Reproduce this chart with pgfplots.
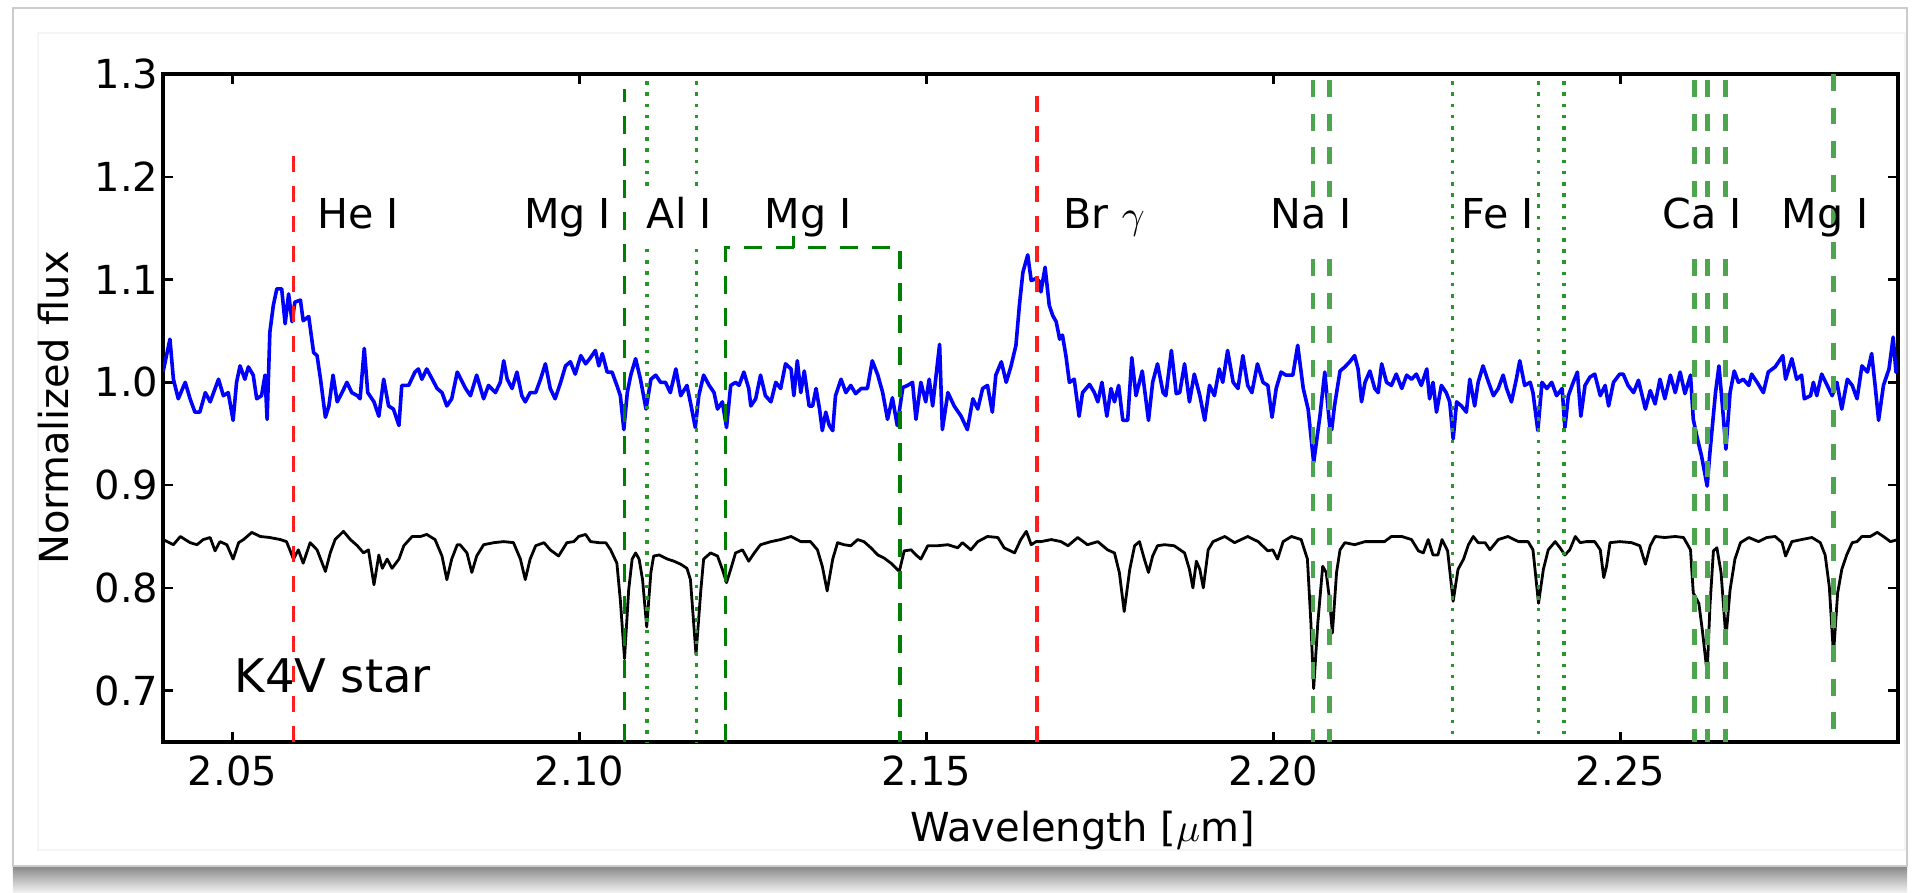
\documentclass[border=0pt]{standalone}
\usepackage{fontspec}
\setmainfont{DejaVu Sans}
\usepackage{pgfplots}
\pgfplotsset{compat=1.18}
\usepackage{pgfplotstable}
\definecolor{specblue}{RGB}{0,0,255}
\definecolor{gdark}{RGB}{0,128,0}
\definecolor{glight}{RGB}{77,166,77}
\definecolor{gdot}{RGB}{40,150,40}
\definecolor{lred}{RGB}{255,30,30}

\pgfplotstableread{
lam flux
2.0400 1.010
2.0410 1.042
2.0415 1.003
2.0422 0.984
2.0432 1.000
2.0439 0.984
2.0446 0.971
2.0453 0.971
2.0461 0.990
2.0468 0.981
2.0480 1.003
2.0487 0.987
2.0494 0.990
2.0501 0.963
2.0506 1.000
2.0511 1.016
2.0518 1.003
2.0523 1.015
2.0530 1.007
2.0535 0.984
2.0542 0.987
2.0547 1.007
2.0550 0.964
2.0554 1.049
2.0559 1.075
2.0564 1.091
2.0571 1.091
2.0576 1.057
2.0581 1.086
2.0586 1.059
2.0590 1.078
2.0598 1.080
2.0602 1.060
2.0610 1.064
2.0617 1.029
2.0622 1.026
2.0627 1.003
2.0634 0.966
2.0639 0.977
2.0645 1.007
2.0651 0.981
2.0658 0.990
2.0665 1.000
2.0672 0.990
2.0680 0.987
2.0684 0.984
2.0690 1.033
2.0695 0.990
2.0704 0.981
2.0711 0.967
2.0718 1.003
2.0725 0.977
2.0732 0.974
2.0740 0.958
2.0744 0.997
2.0754 0.997
2.0763 1.010
2.0768 1.013
2.0773 1.003
2.0780 1.013
2.0788 1.003
2.0795 0.994
2.0802 0.990
2.0809 0.977
2.0816 0.984
2.0824 1.010
2.0836 0.994
2.0843 0.987
2.0852 1.007
2.0862 0.984
2.0869 0.997
2.0879 0.990
2.0886 1.000
2.0891 1.021
2.0896 1.003
2.0903 0.994
2.0910 1.010
2.0917 0.987
2.0922 0.981
2.0929 0.990
2.0937 0.990
2.0944 1.003
2.0951 1.018
2.0958 0.994
2.0965 0.984
2.0973 1.000
2.0980 1.016
2.0987 1.020
2.0994 1.008
2.1002 1.026
2.1009 1.018
2.1016 1.024
2.1023 1.031
2.1028 1.016
2.1033 1.028
2.1040 1.010
2.1047 1.010
2.1054 0.997
2.1059 0.987
2.1064 0.954
2.1069 0.990
2.1074 1.007
2.1081 1.023
2.1088 1.003
2.1096 0.974
2.1103 1.003
2.1110 1.007
2.1117 1.000
2.1124 1.000
2.1131 0.990
2.1139 1.013
2.1146 0.987
2.1155 0.997
2.1161 0.977
2.1167 0.956
2.1172 0.987
2.1179 1.007
2.1187 0.997
2.1194 0.990
2.1199 0.974
2.1206 0.981
2.1212 0.956
2.1218 0.997
2.1225 1.000
2.1230 0.997
2.1237 1.010
2.1244 0.994
2.1247 0.977
2.1254 0.984
2.1261 1.007
2.1268 0.987
2.1276 0.981
2.1283 1.000
2.1290 0.994
2.1297 1.018
2.1305 1.013
2.1309 0.987
2.1314 1.021
2.1319 0.990
2.1324 1.011
2.1331 0.977
2.1336 0.977
2.1341 0.994
2.1346 0.974
2.1350 0.953
2.1355 0.971
2.1360 0.958
2.1365 0.953
2.1369 0.987
2.1377 1.003
2.1384 0.990
2.1391 0.997
2.1398 0.989
2.1406 0.994
2.1415 0.994
2.1422 1.021
2.1430 1.007
2.1437 0.990
2.1444 0.964
2.1451 0.985
2.1458 0.958
2.1466 0.995
2.1473 0.997
2.1480 1.000
2.1485 0.964
2.1492 1.000
2.1499 0.981
2.1504 1.003
2.1509 0.977
2.1514 1.007
2.1519 1.037
2.1523 0.954
2.1531 0.990
2.1540 0.977
2.1550 0.967
2.1559 0.954
2.1567 0.984
2.1574 0.974
2.1581 0.994
2.1588 0.997
2.1595 0.971
2.1600 1.007
2.1608 1.020
2.1615 1.000
2.1622 1.016
2.1629 1.036
2.1634 1.075
2.1639 1.107
2.1646 1.124
2.1651 1.099
2.1658 1.101
2.1663 1.098
2.1665 1.088
2.1671 1.112
2.1677 1.075
2.1682 1.065
2.1687 1.059
2.1692 1.042
2.1696 1.046
2.1701 1.026
2.1706 1.000
2.1713 1.003
2.1720 0.967
2.1725 0.990
2.1735 0.998
2.1742 0.990
2.1747 0.981
2.1753 1.000
2.1760 0.967
2.1766 0.994
2.1771 0.981
2.1777 0.997
2.1783 0.963
2.1790 0.963
2.1796 1.024
2.1802 0.987
2.1811 1.011
2.1820 0.963
2.1826 1.000
2.1833 1.018
2.1841 0.990
2.1845 0.987
2.1853 1.031
2.1860 0.989
2.1865 0.990
2.1872 1.018
2.1879 0.981
2.1886 1.008
2.1894 0.987
2.1901 0.963
2.1908 0.997
2.1915 0.987
2.1922 1.013
2.1927 1.000
2.1934 1.031
2.1942 1.000
2.1949 0.994
2.1956 1.026
2.1963 0.997
2.1969 0.990
2.1977 1.018
2.1985 1.000
2.1992 0.997
2.1998 0.966
2.2004 0.994
2.2011 1.010
2.2018 1.007
2.2028 1.007
2.2035 1.036
2.2043 0.994
2.2050 0.974
2.2058 0.922
2.2067 0.967
2.2074 1.010
2.2081 0.958
2.2084 0.954
2.2088 0.977
2.2096 1.011
2.2103 1.015
2.2110 1.020
2.2117 1.026
2.2122 1.013
2.2127 0.981
2.2132 1.000
2.2139 1.011
2.2146 0.994
2.2151 0.990
2.2156 1.018
2.2163 1.000
2.2170 0.997
2.2177 1.008
2.2185 0.994
2.2192 1.007
2.2199 1.003
2.2206 1.008
2.2213 0.997
2.2221 1.013
2.2225 0.984
2.2230 1.000
2.2235 0.971
2.2242 0.997
2.2249 0.990
2.2254 0.981
2.2259 0.945
2.2264 0.981
2.2271 0.977
2.2278 0.971
2.2283 1.003
2.2290 0.977
2.2295 1.000
2.2302 1.016
2.2310 1.000
2.2317 0.987
2.2324 0.994
2.2331 1.007
2.2336 0.994
2.2343 0.981
2.2350 1.003
2.2355 1.021
2.2362 0.997
2.2370 1.000
2.2374 0.990
2.2381 0.953
2.2387 1.000
2.2394 0.994
2.2401 1.000
2.2408 0.987
2.2416 0.994
2.2420 0.956
2.2425 0.987
2.2432 1.000
2.2438 1.010
2.2443 0.967
2.2449 0.997
2.2456 1.005
2.2463 1.008
2.2471 0.987
2.2478 0.997
2.2483 0.977
2.2490 1.000
2.2499 1.008
2.2504 1.008
2.2511 0.997
2.2519 0.990
2.2526 1.002
2.2536 0.974
2.2543 0.992
2.2550 0.979
2.2557 1.003
2.2564 0.984
2.2572 1.007
2.2579 0.990
2.2586 1.010
2.2593 0.989
2.2601 1.007
2.2605 0.964
2.2610 0.948
2.2617 0.928
2.2625 0.899
2.2629 0.932
2.2637 0.990
2.2642 1.016
2.2647 0.977
2.2652 0.935
2.2658 0.990
2.2664 1.011
2.2670 1.000
2.2677 1.003
2.2685 0.997
2.2689 1.008
2.2697 1.000
2.2706 0.990
2.2713 1.010
2.2723 1.015
2.2734 1.026
2.2738 1.003
2.2747 1.023
2.2754 1.003
2.2761 1.007
2.2765 0.984
2.2774 0.987
2.2778 1.000
2.2783 0.987
2.2790 1.008
2.2798 0.997
2.2805 0.987
2.2812 1.000
2.2819 0.974
2.2827 1.003
2.2834 0.997
2.2841 0.984
2.2848 1.016
2.2856 1.010
2.2862 1.028
2.2867 0.997
2.2872 0.963
2.2879 0.997
2.2887 1.013
2.2893 1.044
2.2897 1.010
2.2900 1.016
}\bluedata

\pgfplotstableread{
lam flux
2.0400 0.847
2.0415 0.842
2.0425 0.850
2.0439 0.844
2.0449 0.842
2.0458 0.847
2.0468 0.849
2.0475 0.836
2.0482 0.845
2.0492 0.842
2.0501 0.828
2.0509 0.844
2.0516 0.847
2.0528 0.854
2.0540 0.850
2.0554 0.849
2.0569 0.847
2.0578 0.845
2.0588 0.828
2.0595 0.837
2.0602 0.824
2.0612 0.844
2.0622 0.837
2.0634 0.816
2.0641 0.834
2.0648 0.847
2.0660 0.855
2.0670 0.847
2.0680 0.841
2.0689 0.834
2.0696 0.837
2.0704 0.803
2.0711 0.832
2.0716 0.819
2.0723 0.828
2.0730 0.819
2.0740 0.828
2.0747 0.841
2.0759 0.850
2.0771 0.850
2.0780 0.852
2.0792 0.847
2.0802 0.831
2.0809 0.808
2.0816 0.828
2.0824 0.842
2.0828 0.842
2.0838 0.834
2.0845 0.815
2.0852 0.831
2.0862 0.842
2.0877 0.844
2.0891 0.845
2.0905 0.844
2.0915 0.828
2.0922 0.808
2.0929 0.828
2.0937 0.841
2.0949 0.844
2.0958 0.837
2.0970 0.831
2.0982 0.844
2.0992 0.845
2.0999 0.850
2.1009 0.852
2.1016 0.845
2.1028 0.844
2.1038 0.844
2.1045 0.837
2.1054 0.824
2.1059 0.788
2.1065 0.731
2.1071 0.798
2.1076 0.828
2.1081 0.834
2.1086 0.828
2.1091 0.808
2.1097 0.762
2.1103 0.815
2.1107 0.831
2.1115 0.832
2.1127 0.828
2.1136 0.826
2.1146 0.823
2.1155 0.819
2.1160 0.808
2.1168 0.735
2.1175 0.798
2.1179 0.828
2.1189 0.834
2.1199 0.831
2.1206 0.818
2.1212 0.805
2.1218 0.818
2.1225 0.834
2.1235 0.837
2.1244 0.826
2.1252 0.834
2.1261 0.842
2.1276 0.845
2.1290 0.847
2.1305 0.850
2.1319 0.845
2.1333 0.845
2.1343 0.837
2.1350 0.821
2.1357 0.797
2.1365 0.828
2.1372 0.844
2.1381 0.842
2.1391 0.841
2.1401 0.847
2.1410 0.845
2.1420 0.839
2.1430 0.832
2.1439 0.829
2.1449 0.824
2.1461 0.816
2.1468 0.836
2.1478 0.837
2.1485 0.832
2.1492 0.828
2.1502 0.841
2.1516 0.841
2.1531 0.842
2.1545 0.839
2.1552 0.844
2.1564 0.837
2.1574 0.845
2.1588 0.850
2.1603 0.849
2.1612 0.839
2.1627 0.834
2.1636 0.847
2.1644 0.855
2.1651 0.842
2.1658 0.845
2.1665 0.845
2.1680 0.847
2.1694 0.845
2.1704 0.841
2.1718 0.849
2.1732 0.842
2.1747 0.845
2.1761 0.837
2.1771 0.834
2.1778 0.815
2.1785 0.777
2.1793 0.818
2.1800 0.841
2.1807 0.845
2.1814 0.828
2.1820 0.815
2.1826 0.831
2.1833 0.841
2.1843 0.842
2.1857 0.841
2.1872 0.834
2.1879 0.818
2.1884 0.800
2.1889 0.826
2.1894 0.818
2.1899 0.800
2.1906 0.837
2.1913 0.845
2.1930 0.850
2.1944 0.844
2.1963 0.850
2.1978 0.845
2.1992 0.836
2.1999 0.837
2.2006 0.828
2.2014 0.845
2.2026 0.850
2.2040 0.847
2.2049 0.828
2.2054 0.766
2.2058 0.702
2.2064 0.766
2.2071 0.821
2.2076 0.815
2.2081 0.788
2.2085 0.756
2.2091 0.815
2.2096 0.837
2.2103 0.844
2.2117 0.842
2.2132 0.845
2.2146 0.845
2.2160 0.845
2.2170 0.850
2.2185 0.850
2.2199 0.847
2.2209 0.836
2.2216 0.834
2.2223 0.847
2.2230 0.832
2.2237 0.832
2.2243 0.847
2.2251 0.836
2.2259 0.787
2.2266 0.818
2.2274 0.828
2.2281 0.842
2.2288 0.850
2.2295 0.844
2.2305 0.844
2.2312 0.837
2.2324 0.847
2.2338 0.850
2.2353 0.845
2.2367 0.845
2.2374 0.837
2.2382 0.785
2.2389 0.818
2.2396 0.837
2.2406 0.845
2.2413 0.839
2.2420 0.832
2.2427 0.837
2.2435 0.850
2.2442 0.844
2.2451 0.845
2.2463 0.845
2.2471 0.837
2.2476 0.810
2.2480 0.821
2.2485 0.844
2.2499 0.845
2.2516 0.844
2.2528 0.841
2.2536 0.823
2.2543 0.841
2.2550 0.850
2.2564 0.849
2.2579 0.850
2.2591 0.849
2.2601 0.837
2.2605 0.795
2.2613 0.785
2.2618 0.759
2.2625 0.717
2.2629 0.782
2.2634 0.836
2.2639 0.839
2.2645 0.815
2.2652 0.751
2.2658 0.798
2.2665 0.828
2.2673 0.844
2.2685 0.849
2.2699 0.845
2.2711 0.849
2.2723 0.850
2.2733 0.844
2.2738 0.831
2.2747 0.845
2.2761 0.847
2.2776 0.849
2.2788 0.844
2.2795 0.832
2.2801 0.801
2.2807 0.735
2.2813 0.795
2.2819 0.818
2.2826 0.832
2.2834 0.844
2.2841 0.845
2.2848 0.850
2.2860 0.850
2.2870 0.854
2.2879 0.850
2.2889 0.845
2.2900 0.847
}\blackdata

\begin{document}
\begin{tikzpicture}
\path[use as bounding box] (-40.75pt,-37.5pt) rectangle (437.25pt,185.5pt);
\shade[top color=black!50, bottom color=black!6] (-37.5pt,-37.5pt) rectangle (436pt,-30.5pt);
\draw[gray!40, fill=white, line width=0.6pt] (-37.5pt,-31pt) rectangle (436pt,183.5pt);
\draw[gray!8, line width=0.5pt] (-31.25pt,-27pt) rectangle (435.5pt,177.25pt);
\begin{axis}[
  at={(0pt,0pt)}, anchor=south west,
  scale only axis, width=433.75pt, height=167pt,
  xmin=2.04, xmax=2.29, ymin=0.65, ymax=1.3,
  xtick={2.05,2.10,2.15,2.20,2.25},
  xticklabels={2.05,2.10,2.15,2.20,2.25},
  ytick={0.7,0.8,0.9,1.0,1.1,1.2,1.3},
  yticklabels={0.7,0.8,0.9,1.0,1.1,1.2,1.3},
  tick align=inside, xtick pos=both, ytick pos=both,
  xticklabel pos=lower, yticklabel pos=left,
  major tick length=2.5pt,
  major tick style={black, line width=0.6pt},
  axis line style={line width=1pt},
  tick label style={font=\fontsize{10}{12}\selectfont},
  yticklabel style={inner sep=1pt},
  xlabel={Wavelength [$\mu$m]},
  ylabel={Normalized flux},
  label style={font=\fontsize{10}{12}\selectfont},
  xlabel style={at={(axis description cs:0.530,-0.1317)}, anchor=center},
  ylabel style={at={(axis description cs:-0.0632,0.5)}, anchor=center},
  clip=true,
]
\addplot[specblue, line width=0.9pt, line join=round] table[x=lam, y=flux] {\bluedata};
\addplot[black, line width=0.7pt, line join=round] table[x=lam, y=flux] {\blackdata};

% red emission lines
\addplot[lred, line width=0.9pt, dash pattern=on 4pt off 3.5pt] coordinates {(2.0588,0.65) (2.0588,1.221)};
\addplot[lred, line width=0.9pt, dash pattern=on 4pt off 3.5pt] coordinates {(2.1659,0.65) (2.1659,1.285)};
% Mg I 2.1065
\addplot[gdark, line width=0.8pt, dash pattern=on 4.5pt off 3.5pt] coordinates {(2.1065,0.65) (2.1065,1.285)};
% Al I dotted
\addplot[gdot, line width=0.9pt, dash pattern=on 0.9pt off 1.9pt] coordinates {(2.1097,1.293) (2.1097,1.185)};
\addplot[gdot, line width=0.9pt, dash pattern=on 0.9pt off 1.9pt] coordinates {(2.1097,1.130) (2.1097,0.65)};
\addplot[gdot, line width=0.9pt, dash pattern=on 0.9pt off 1.9pt] coordinates {(2.1169,1.293) (2.1169,1.185)};
\addplot[gdot, line width=0.9pt, dash pattern=on 0.9pt off 1.9pt] coordinates {(2.1169,1.130) (2.1169,0.65)};
% Mg I box
\addplot[gdark, line width=0.8pt, dash pattern=on 4.5pt off 3.5pt] coordinates {(2.1211,0.65) (2.1211,1.131) (2.1462,1.131) (2.1462,0.65)};
\addplot[gdark, line width=0.8pt] coordinates {(2.1309,1.131) (2.1309,1.142)};
% Na I
\addplot[glight, line width=1.2pt, dash pattern=on 4.2pt off 4.2pt] coordinates {(2.2057,1.294) (2.2057,1.180)};
\addplot[glight, line width=1.2pt, dash pattern=on 4.2pt off 4.2pt] coordinates {(2.2057,1.120) (2.2057,0.65)};
\addplot[glight, line width=1.2pt, dash pattern=on 4.2pt off 4.2pt] coordinates {(2.2081,1.294) (2.2081,1.180)};
\addplot[glight, line width=1.2pt, dash pattern=on 4.2pt off 4.2pt] coordinates {(2.2081,1.120) (2.2081,0.65)};
% Fe I dotted
\addplot[gdot, line width=0.9pt, dash pattern=on 0.9pt off 1.9pt] coordinates {(2.2258,1.293) (2.2258,0.65)};
\addplot[gdot, line width=0.9pt, dash pattern=on 0.9pt off 1.9pt] coordinates {(2.2382,1.293) (2.2382,0.65)};
\addplot[gdot, line width=0.9pt, dash pattern=on 0.9pt off 1.9pt] coordinates {(2.2419,1.293) (2.2419,0.65)};
% Ca I
\addplot[glight, line width=1.2pt, dash pattern=on 4.2pt off 4.2pt] coordinates {(2.2607,1.294) (2.2607,1.180)};
\addplot[glight, line width=1.2pt, dash pattern=on 4.2pt off 4.2pt] coordinates {(2.2607,1.120) (2.2607,0.65)};
\addplot[glight, line width=1.2pt, dash pattern=on 4.2pt off 4.2pt] coordinates {(2.2625,1.294) (2.2625,1.180)};
\addplot[glight, line width=1.2pt, dash pattern=on 4.2pt off 4.2pt] coordinates {(2.2625,1.120) (2.2625,0.65)};
\addplot[glight, line width=1.2pt, dash pattern=on 4.2pt off 4.2pt] coordinates {(2.2651,1.294) (2.2651,1.180)};
\addplot[glight, line width=1.2pt, dash pattern=on 4.2pt off 4.2pt] coordinates {(2.2651,1.120) (2.2651,0.65)};
% Mg I 2.2807
\addplot[glight, line width=1.2pt, dash pattern=on 4.2pt off 4.2pt] coordinates {(2.2807,1.30) (2.2807,0.65)};

% labels
\begin{scope}[every node/.style={font=\fontsize{10.3}{12}\selectfont, anchor=base, inner sep=0pt}]
\node at (axis cs:2.0681,1.150) {He I};
\node at (axis cs:2.0983,1.150) {Mg I};
\node at (axis cs:2.1144,1.150) {Al I};
\node at (axis cs:2.1330,1.150) {Mg I};
\node at (axis cs:2.1756,1.150) {Br $\gamma$};
\node at (axis cs:2.2054,1.150) {Na I};
\node at (axis cs:2.2323,1.150) {Fe I};
\node at (axis cs:2.2618,1.150) {Ca I};
\node at (axis cs:2.2795,1.150) {Mg I};
\end{scope}
\node[font=\fontsize{11.6}{14}\selectfont, anchor=base west, inner sep=0pt] at (axis cs:2.0502,0.698) {K4V star};
\end{axis}
\end{tikzpicture}
\end{document}
